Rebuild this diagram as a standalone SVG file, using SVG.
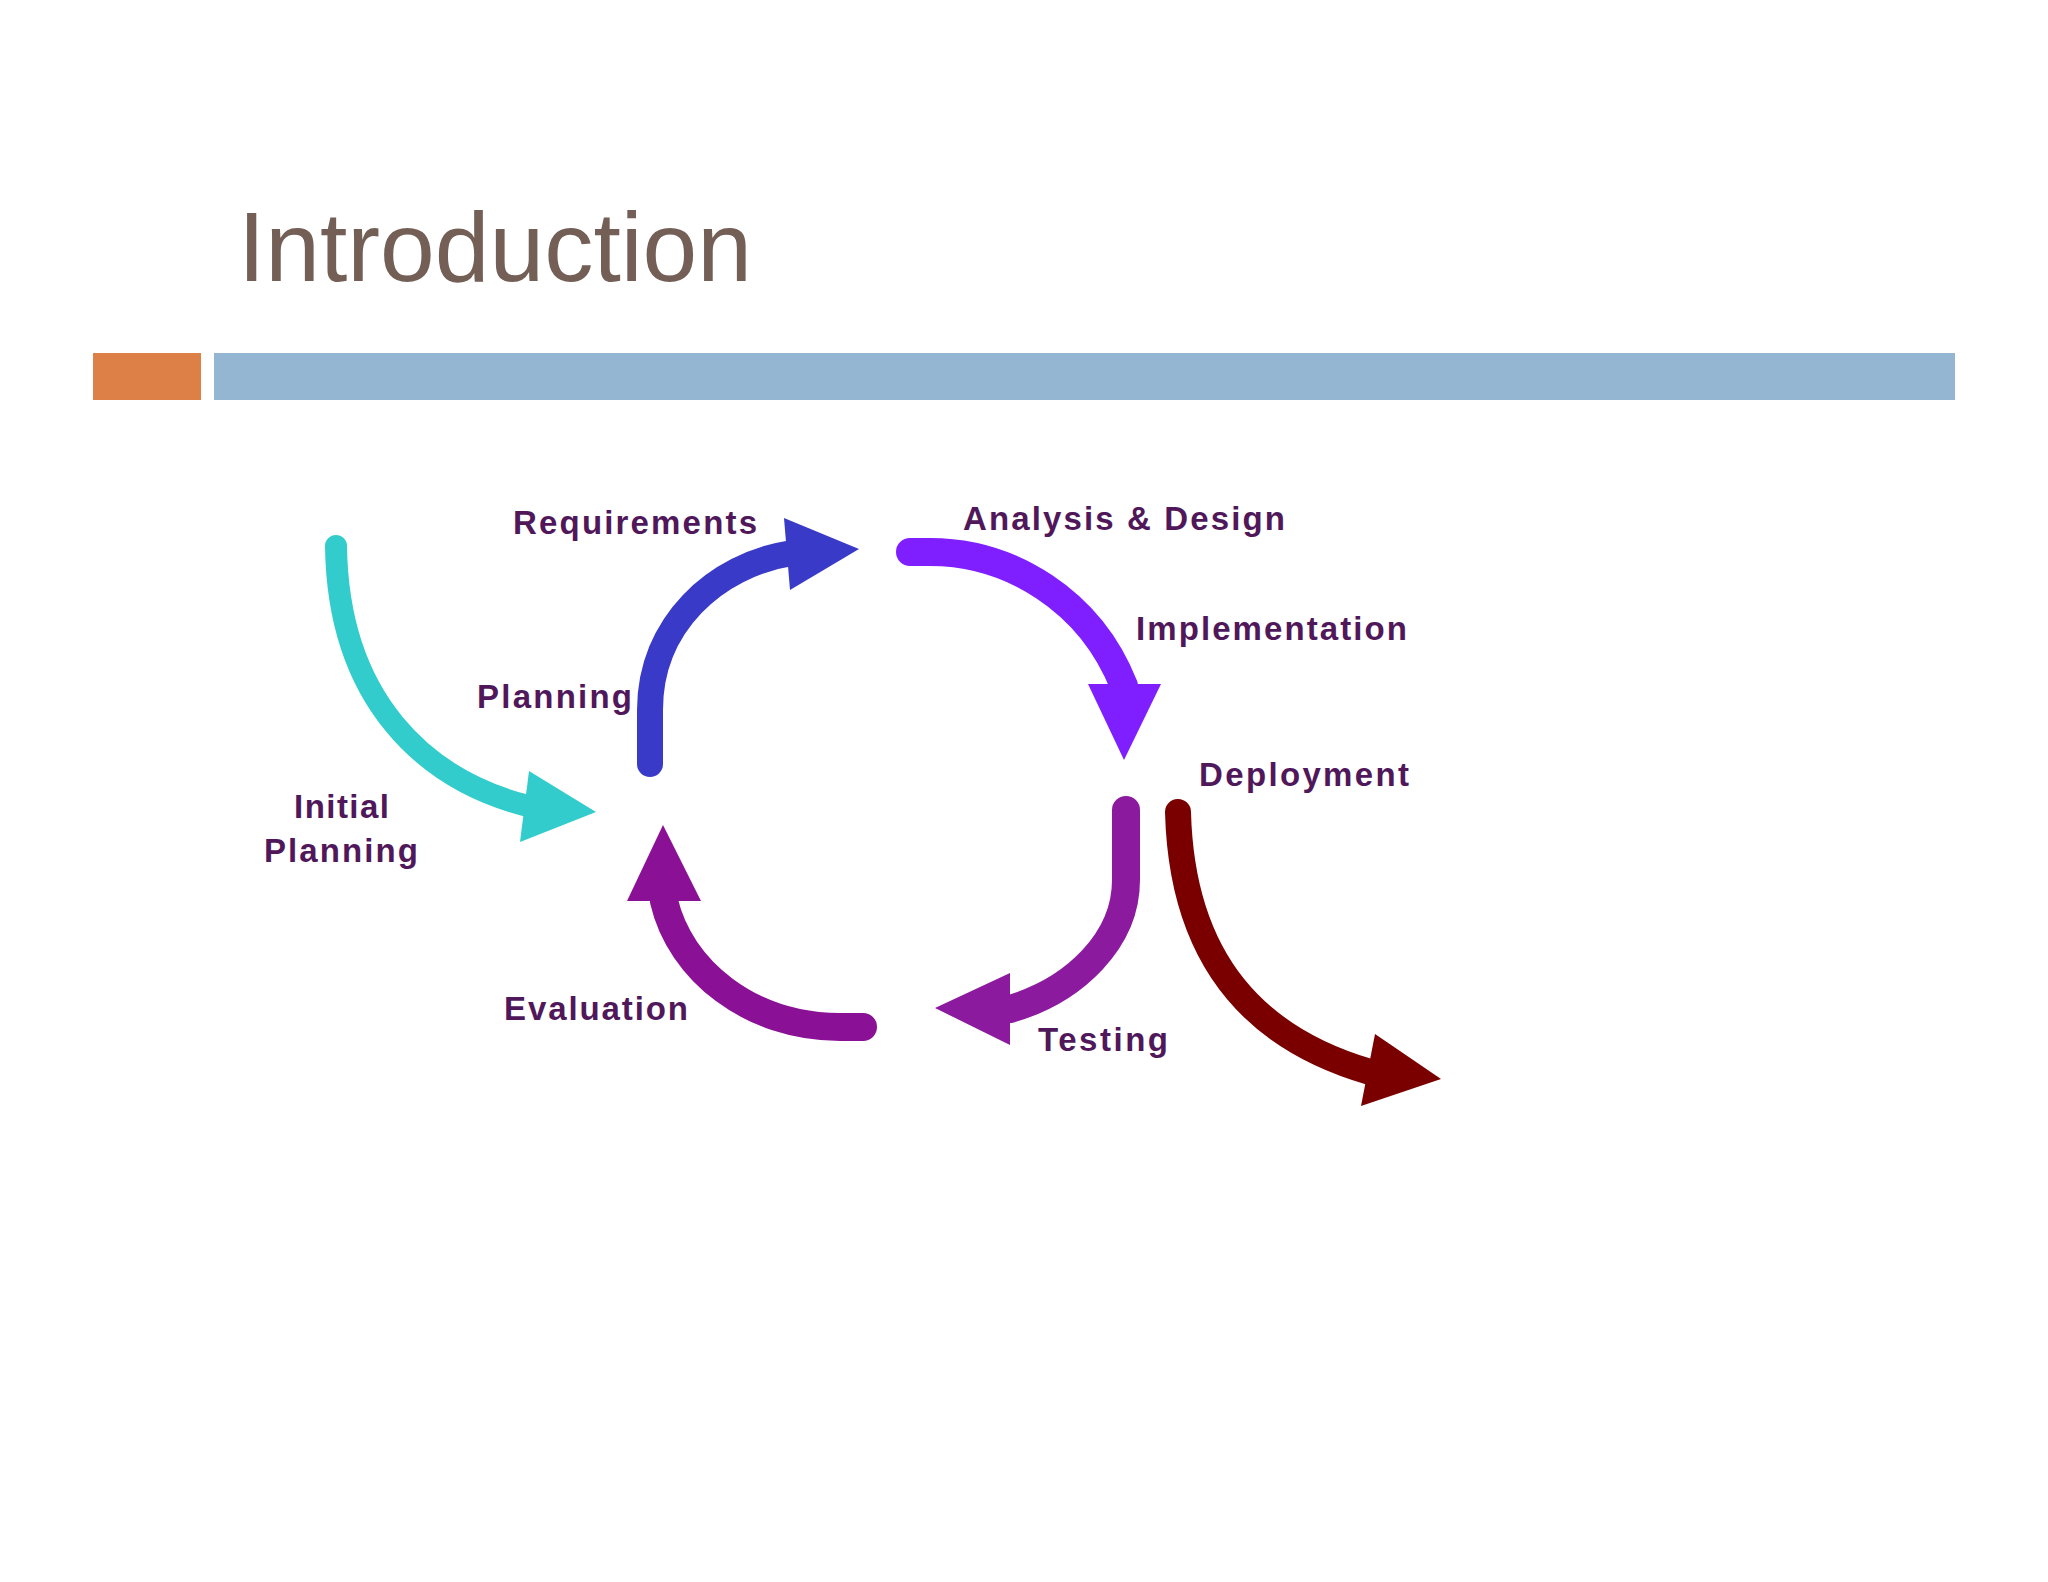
<svg xmlns="http://www.w3.org/2000/svg" width="2048" height="1582" viewBox="0 0 2048 1582">
<style>
.lbl{font-family:"Liberation Sans",Arial,sans-serif;font-weight:bold;font-size:33px;fill:#50185a}
.shaft{fill:none;stroke-linecap:round}
</style>
<rect width="2048" height="1582" fill="#ffffff"/>
<text x="238" y="281" font-family="'Liberation Sans',Arial,sans-serif" font-size="98" fill="#735f56" textLength="514" lengthAdjust="spacingAndGlyphs">Introduction</text>
<rect x="93" y="353" width="108" height="47" fill="#dd8047"/>
<rect x="214" y="353" width="1741" height="47" fill="#94b6d2"/>
<g id="connectors">
<path class="shaft" d="M336,546 C338,700 425,780 528,806" stroke="#33cccc" stroke-width="22"/>
<polygon points="529,771 596,812 520,842" fill="#33cccc"/>
<path class="shaft" d="M650,764 L650,710 C650,625 715,565 792,553" stroke="#3a3ac8" stroke-width="26"/>
<polygon points="784,518 859,549 790,590" fill="#3a3ac8"/>
<path class="shaft" d="M910,552 L930,552 C1010,552 1090,600 1124,686" stroke="#7f1fff" stroke-width="28"/>
<polygon points="1088,684 1161,684 1124,760" fill="#7f1fff"/>
<path class="shaft" d="M1126,810 L1126,880 C1126,940 1075,990 1010,1009" stroke="#8c1a9e" stroke-width="28"/>
<polygon points="1010,973 935,1008 1010,1045" fill="#8c1a9e"/>
<path class="shaft" d="M863,1027 L840,1027 C750,1027 680,970 664,901" stroke="#8a1095" stroke-width="28"/>
<polygon points="627,901 663,825 701,901" fill="#8a1095"/>
<path class="shaft" d="M1178,812 C1182,965 1260,1040 1370,1072" stroke="#7a0000" stroke-width="26"/>
<polygon points="1375,1034 1441,1079 1361,1106" fill="#7a0000"/>
</g>
<g id="node-requirements"><text class="lbl" x="513" y="534" textLength="244">Requirements</text></g>
<g id="node-analysis"><text class="lbl" x="963" y="530" textLength="322">Analysis &amp; Design</text></g>
<g id="node-implementation"><text class="lbl" x="1136" y="640" textLength="271">Implementation</text></g>
<g id="node-planning"><text class="lbl" x="477" y="708" textLength="155">Planning</text></g>
<g id="node-deployment"><text class="lbl" x="1199" y="786" textLength="210">Deployment</text></g>
<g id="node-initial"><text class="lbl" x="294" y="818" textLength="95">Initial</text><text class="lbl" x="264" y="862" textLength="154">Planning</text></g>
<g id="node-evaluation"><text class="lbl" x="504" y="1020" textLength="184">Evaluation</text></g>
<g id="node-testing"><text class="lbl" x="1038" y="1051" textLength="130">Testing</text></g>
</svg>
